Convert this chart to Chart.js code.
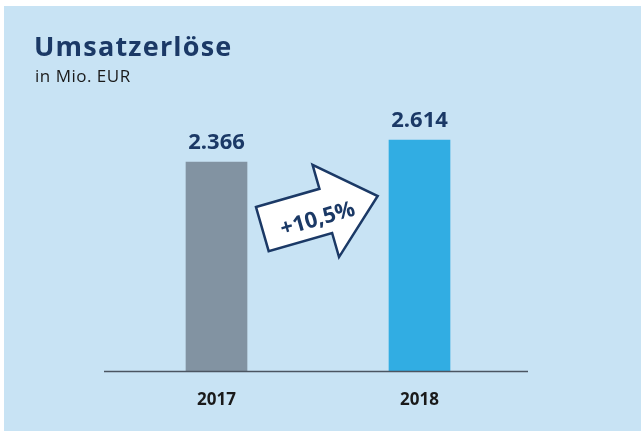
<!DOCTYPE html>
<html>
<head>
<meta charset="utf-8">
<script src="https://cdn.jsdelivr.net/npm/chart.js@4/dist/chart.umd.min.js"></script>
<style>
  html, body { margin: 0; padding: 0; background: #ffffff; }
  #wrap { width: 641px; height: 431px; position: relative; }
</style>
</head>
<body>
<div id="wrap"><canvas id="canvas" width="641" height="431"></canvas></div>
<script>
// data
var years = ['2017', '2018'];
var umsatz = [2366, 2614];
var barColors = ['#8293a2', '#31ade3'];
var growthLabel = '+10,5%';
var chartTitle = 'Umsatzerlöse';
var chartSubtitle = 'in Mio. EUR';

var navy = '#1b3966';
var fontFam = '"Open Sans", "DejaVu Sans", sans-serif';

var fmt = function(v) { return v.toLocaleString('de-DE'); };

var decor = {
    id: 'decor',
    beforeDraw: function(chart) {
        var ctx = chart.ctx;
        ctx.save();
        ctx.fillStyle = '#c8e3f4';
        ctx.fillRect(4, 6, chart.width - 4, chart.height - 6);
        // title + subtitle
        ctx.fillStyle = navy;
        ctx.textBaseline = 'alphabetic';
        ctx.textAlign = 'left';
        ctx.font = 'bold 27px ' + fontFam;
        ctx.letterSpacing = '1.2px';
        ctx.fillText(chartTitle, 34, 56);
        ctx.letterSpacing = '0.5px';
        ctx.fillStyle = '#1a1a1a';
        ctx.font = '17px ' + fontFam;
        ctx.fillText(chartSubtitle, 35, 82);
        ctx.letterSpacing = '0px';
        ctx.restore();
    },
    afterDatasetsDraw: function(chart) {
        var ctx = chart.ctx;
        var area = chart.chartArea;
        var meta = chart.getDatasetMeta(0);
        ctx.save();
        // base line
        ctx.strokeStyle = '#4b5561';
        ctx.lineWidth = 1.5;
        ctx.beginPath();
        ctx.moveTo(area.left - 11, area.bottom);
        ctx.lineTo(area.right + 7, area.bottom);
        ctx.stroke();
        // value labels
        ctx.fillStyle = navy;
        ctx.font = 'bold 22px ' + fontFam;
        ctx.textAlign = 'center';
        ctx.textBaseline = 'alphabetic';
        meta.data.forEach(function(bar, i) {
            ctx.fillText(fmt(umsatz[i]), bar.x, bar.y - 13);
        });
        // growth arrow between the bars
        var b0 = meta.data[0];
        var ox = b0.x + b0.width / 2 + 9;
        var oy = area.top + 101;
        ctx.translate(ox, oy);
        ctx.rotate(-16 * Math.PI / 180);
        ctx.beginPath();
        ctx.moveTo(0, 0);
        ctx.lineTo(66, 0);
        ctx.lineTo(66, -25);
        ctx.lineTo(120, 23);
        ctx.lineTo(66, 71);
        ctx.lineTo(66, 46);
        ctx.lineTo(0, 46);
        ctx.closePath();
        ctx.fillStyle = '#ffffff';
        ctx.fill();
        ctx.strokeStyle = navy;
        ctx.lineWidth = 2.5;
        ctx.lineJoin = 'miter';
        ctx.stroke();
        ctx.fillStyle = navy;
        ctx.font = 'bold 22px ' + fontFam;
        ctx.textAlign = 'center';
        ctx.textBaseline = 'middle';
        ctx.fillText(growthLabel, 56, 29);
        ctx.restore();
    }
};

new Chart(document.getElementById('canvas').getContext('2d'), {
    type: 'bar',
    data: {
        labels: years,
        datasets: [{
            data: umsatz,
            backgroundColor: barColors,
            borderWidth: 0,
            barThickness: 61
        }]
    },
    options: {
        responsive: false,
        animation: false,
        layout: { padding: { top: 106, left: 115, right: 120, bottom: 3 } },
        plugins: {
            legend: { display: false },
            tooltip: { enabled: false }
        },
        scales: {
            x: {
                grid: { display: false, drawTicks: false },
                border: { display: false },
                ticks: {
                    color: '#1a1a1a',
                    padding: 18,
                    font: { family: fontFam, size: 17, weight: 'bold' }
                }
            },
            y: {
                display: false,
                min: 0,
                max: 3000
            }
        }
    },
    plugins: [decor]
});
</script>
</body>
</html>
